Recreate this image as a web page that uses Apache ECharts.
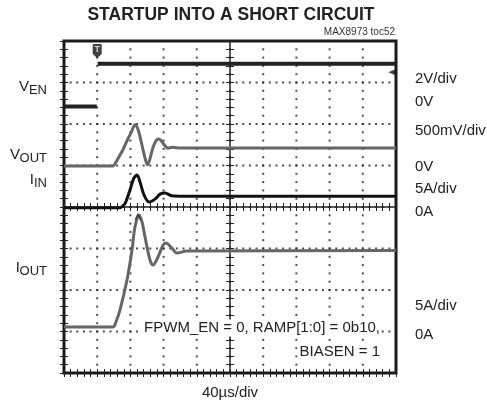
<!DOCTYPE html>
<html>
<head>
<meta charset="utf-8">
<title>Startup into a short circuit</title>
<script src="https://cdn.jsdelivr.net/npm/echarts@6/dist/echarts.min.js"></script>
<style>
  html, body { margin: 0; padding: 0; background: #fff; }
  #chart { width: 487px; height: 408px; }
</style>
</head>
<body>
<div id="chart"></div>
<script>
// scope settings: 40us/div over 10 divisions, 8 vertical divisions
const timeMin = 0, timeMax = 400, timeStep = 40;
const divMin = 0, divMax = 8, divStep = 1;

// traces, time in us, level in screen divisions (0 = bottom of screen)
const venTime = [0, 39.5, 40, 40.5, 400];
const venLevel = [6.42, 6.42, null, 7.45, 7.45];

const voutTime = [0, 59, 62, 66, 71, 76, 81, 85.5, 89, 92, 95, 98, 100.5, 103, 107, 111, 114, 117, 120, 125, 131, 140, 400];
const voutLevel = [4.99, 4.99, 5.06, 5.2, 5.38, 5.6, 5.8, 5.98, 5.88, 5.66, 5.4, 5.15, 5.02, 5.12, 5.42, 5.6, 5.64, 5.6, 5.52, 5.42, 5.44, 5.42, 5.42];

const iinTime = [0, 67.5, 71, 74, 79.5, 84.3, 88, 91.6, 96.4, 102.4, 109.6, 115.7, 121.7, 130, 146, 400];
const iinLevel = [3.98, 3.98, 4.03, 4.1, 4.41, 4.7, 4.77, 4.6, 4.29, 4.12, 4.19, 4.31, 4.34, 4.27, 4.26, 4.26];

const ioutTime = [0, 59, 62.6, 67.5, 75.9, 81.9, 85.5, 90.4, 94, 97.6, 103.6, 107.2, 113.3, 119.3, 122.9, 130, 136, 148, 400];
const ioutLevel = [1.11, 1.11, 1.23, 1.52, 2.24, 2.96, 3.52, 3.81, 3.64, 3.28, 2.72, 2.6, 2.8, 3.08, 3.13, 3.01, 2.89, 2.94, 2.95];

// trigger marker (time, level), trigger level arrow, cursor
const triggerPoint = [40, 7.76];
const levelArrow = [395, 7.25];
const cursorMark = [89, 3.78];

const leftLabels = [
  { main: "V", sub: "EN", subW: 18, y: 87 },
  { main: "V", sub: "OUT", subW: 27, y: 155 },
  { main: "I", sub: "IN", subW: 13, y: 180 },
  { main: "I", sub: "OUT", subW: 27, y: 268 }
];
const rightLabels = [
  ["2V/div", 79], ["0V", 102], ["500mV/div", 131], ["0V", 167],
  ["5A/div", 189], ["0A", 212], ["5A/div", 306], ["0A", 335]
];

const FONT = '"Liberation Sans", Arial, Helvetica, sans-serif';
const GRID = { left: 64, top: 41, width: 332, height: 332 };
const nX = (timeMax - timeMin) / timeStep;  // 10 divisions
const nY = (divMax - divMin) / divStep;     // 8 divisions
const SUB = 5;                              // dots per division

function pairs(xs, ys) {
  return xs.map((x, i) => [x, ys[i] === null ? "-" : ys[i]]);
}

// graticule dots, placed on the scope's division lines
const graticule = [];
for (let k = 1; k < nX; k++) {
  for (let j = 0; j <= nY * SUB; j++) graticule.push([timeMin + k * timeStep, divMin + j * divStep / SUB]);
}
for (let k = 1; k < nY; k++) {
  for (let j = 0; j <= nX * SUB; j++) graticule.push([timeMin + j * timeStep / SUB, divMin + k * divStep]);
}

function xAx(extra) {
  return Object.assign({
    type: "value", min: timeMin, max: timeMax, interval: timeStep,
    axisLabel: { show: false }, splitLine: { show: false },
    axisLine: { show: false },
    axisTick: { show: true, inside: true, length: 4, lineStyle: { color: "#222", width: 1 } },
    minorTick: { show: true, splitNumber: SUB, length: 4, lineStyle: { color: "#222", width: 1 } }
  }, extra);
}
function yAx(extra) {
  return Object.assign({
    type: "value", min: divMin, max: divMax, interval: divStep,
    axisLabel: { show: false }, splitLine: { show: false },
    axisLine: { show: false },
    axisTick: { show: true, inside: true, length: 4, lineStyle: { color: "#222", width: 1 } },
    minorTick: { show: true, splitNumber: SUB, length: 4, lineStyle: { color: "#222", width: 1 } }
  }, extra);
}

const chart = echarts.init(document.getElementById("chart"));

const graphics = [];
graphics.push({
  type: "text", x: 231, y: 15,
  style: { text: "STARTUP INTO A SHORT CIRCUIT", font: "bold 17.5px " + FONT, fill: "#222", align: "center", verticalAlign: "middle" }
});
graphics.push({
  type: "text", x: 395, y: 32,
  style: { text: "MAX8973 toc52", font: "10px " + FONT, fill: "#333", align: "right", verticalAlign: "middle" }
});
graphics.push({
  type: "text", x: 230, y: 393,
  style: { text: "40\u00b5s/div", font: "15px " + FONT, fill: "#222", align: "center", verticalAlign: "middle" }
});
leftLabels.forEach(l => {
  graphics.push({
    type: "text", x: 47, y: l.y + 3,
    style: { text: l.sub, font: "13px " + FONT, fill: "#222", align: "right", verticalAlign: "middle" }
  });
  graphics.push({
    type: "text", x: 47 - l.subW, y: l.y,
    style: { text: l.main, font: "15px " + FONT, fill: "#222", align: "right", verticalAlign: "middle" }
  });
});
rightLabels.forEach(r => {
  graphics.push({
    type: "text", x: 415, y: r[1],
    style: { text: r[0], font: "15px " + FONT, fill: "#222", align: "left", verticalAlign: "middle" }
  });
});
graphics.push({
  type: "text", x: 381, y: 328, z: 10,
  style: { text: "FPWM_EN = 0, RAMP[1:0] = 0b10,", font: "15px " + FONT, fill: "#222",
           align: "right", verticalAlign: "middle", backgroundColor: "#fff", padding: [1, 1, 1, 2] }
});
graphics.push({
  type: "text", x: 381, y: 352, z: 10,
  style: { text: "BIASEN = 1", font: "15px " + FONT, fill: "#222",
           align: "right", verticalAlign: "middle", backgroundColor: "#fff", padding: [1, 1, 1, 2] }
});

chart.setOption({
  animation: false,
  backgroundColor: "#fff",
  grid: Object.assign({ show: true, borderColor: "#1a1a1a", borderWidth: 3 }, GRID),
  xAxis: [
    xAx({ position: "bottom" }),
    xAx({ position: "top" }),
    xAx({
      position: "bottom", offset: -GRID.height / 2,
      axisLine: { show: true, onZero: false, lineStyle: { color: "#222", width: 1.5 } }
    }),
    xAx({ position: "bottom", offset: -GRID.height / 2, axisTick: { show: true, inside: false, length: 4, lineStyle: { color: "#222" } } })
  ],
  yAxis: [
    yAx({ position: "left" }),
    yAx({ position: "right" }),
    yAx({
      position: "left", offset: -GRID.width / 2,
      axisLine: { show: true, onZero: false, lineStyle: { color: "#222", width: 1.5 } }
    }),
    yAx({ position: "left", offset: -GRID.width / 2, axisTick: { show: true, inside: false, length: 4, lineStyle: { color: "#222" } } })
  ],
  series: [
    {
      name: "graticule", type: "scatter", data: graticule, silent: true, z: 1,
      symbol: "rect", symbolSize: 2, itemStyle: { color: "#222" }
    },
    {
      name: "VEN", type: "line", data: pairs(venTime, venLevel), showSymbol: false,
      connectNulls: false, lineStyle: { color: "#222", width: 4 }, z: 3
    },
    {
      name: "VOUT", type: "line", data: pairs(voutTime, voutLevel), showSymbol: false,
      smooth: 0.3, lineStyle: { color: "#666", width: 3 }, z: 3
    },
    {
      name: "IIN", type: "line", data: pairs(iinTime, iinLevel), showSymbol: false,
      smooth: 0.3, lineStyle: { color: "#111", width: 3 }, z: 4
    },
    {
      name: "IOUT", type: "line", data: pairs(ioutTime, ioutLevel), showSymbol: false,
      smooth: 0.3, lineStyle: { color: "#666", width: 3 }, z: 3
    },
    {
      name: "trigger", type: "scatter", z: 5,
      data: [triggerPoint],
      symbol: "path://M1,0 L9,0 Q10,0 10,1 L10,10 L5,14 L0,10 L0,1 Q0,0 1,0 Z",
      symbolSize: [9, 14],
      itemStyle: { color: "#111" },
      label: { show: true, formatter: "T", color: "#fff", fontSize: 9, fontWeight: "bold", position: "inside", offset: [0, -1] }
    },
    {
      name: "level", type: "scatter", z: 5,
      data: [levelArrow], symbol: "triangle", symbolRotate: 90, symbolSize: [6, 7],
      itemStyle: { color: "#111" }
    },
    {
      name: "cursor", type: "scatter", z: 5,
      data: [cursorMark], symbol: "path://M0,8 L4,0 L8,8 L6,8 L4,4 L2,8 Z", symbolSize: [7, 7],
      itemStyle: { color: "#333" }
    }
  ],
  graphic: graphics
});
</script>
</body>
</html>
